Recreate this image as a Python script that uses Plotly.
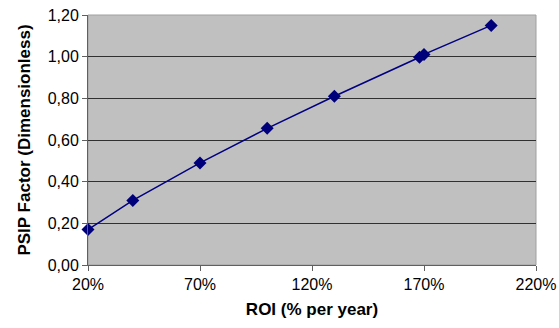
import plotly.graph_objects as go

roi = [20, 40, 70, 100, 130, 168, 170, 200]
psip = [0.17, 0.31, 0.49, 0.656, 0.81, 0.997, 1.011, 1.15]

x_ticks = [20, 70, 120, 170, 220]
x_labels = ["20%", "70%", "120%", "170%", "220%"]
y_ticks = [0, 0.2, 0.4, 0.6, 0.8, 1.0, 1.2]
y_labels = ["0,00", "0,20", "0,40", "0,60", "0,80", "1,00", "1,20"]

fig = go.Figure(go.Scatter(
    x=roi, y=psip, mode="lines+markers",
    line=dict(color="#000080", width=1.5),
    marker=dict(symbol="diamond", size=10, color="#00007A"),
    cliponaxis=False,
))

font = "Liberation Sans, Arial, sans-serif"
fig.update_layout(
    width=559, height=328,
    margin=dict(l=88, r=23, t=15, b=63),
    paper_bgcolor="white", plot_bgcolor="#C0C0C0",
    showlegend=False,
    font=dict(family=font, size=16, color="black"),
)
fig.update_xaxes(
    range=[20, 220], tickvals=x_ticks, ticktext=x_labels,
    showgrid=False, zeroline=False, automargin=False,
    showline=True, linecolor="#606060", linewidth=1, mirror=False,
    ticks="outside", ticklen=5, tickcolor="#606060",
    title=dict(text="<b>ROI (% per year)</b>", font=dict(size=17), standoff=10),
)
fig.update_yaxes(
    range=[0, 1.2], tickvals=y_ticks, ticktext=y_labels,
    showgrid=True, gridcolor="#303030", gridwidth=1, zeroline=False, automargin=False,
    showline=True, linecolor="#606060", linewidth=1,
    ticks="outside", ticklen=5, tickcolor="#606060",
    title=dict(text="<b>PSIP Factor (Dimensionless)</b>", font=dict(size=17), standoff=12),
)
fig.add_shape(type="rect", xref="paper", yref="paper", x0=0, x1=1, y0=0, y1=1,
              line=dict(color="#A0A0A0", width=1), layer="below")
fig.write_html("out.html")
